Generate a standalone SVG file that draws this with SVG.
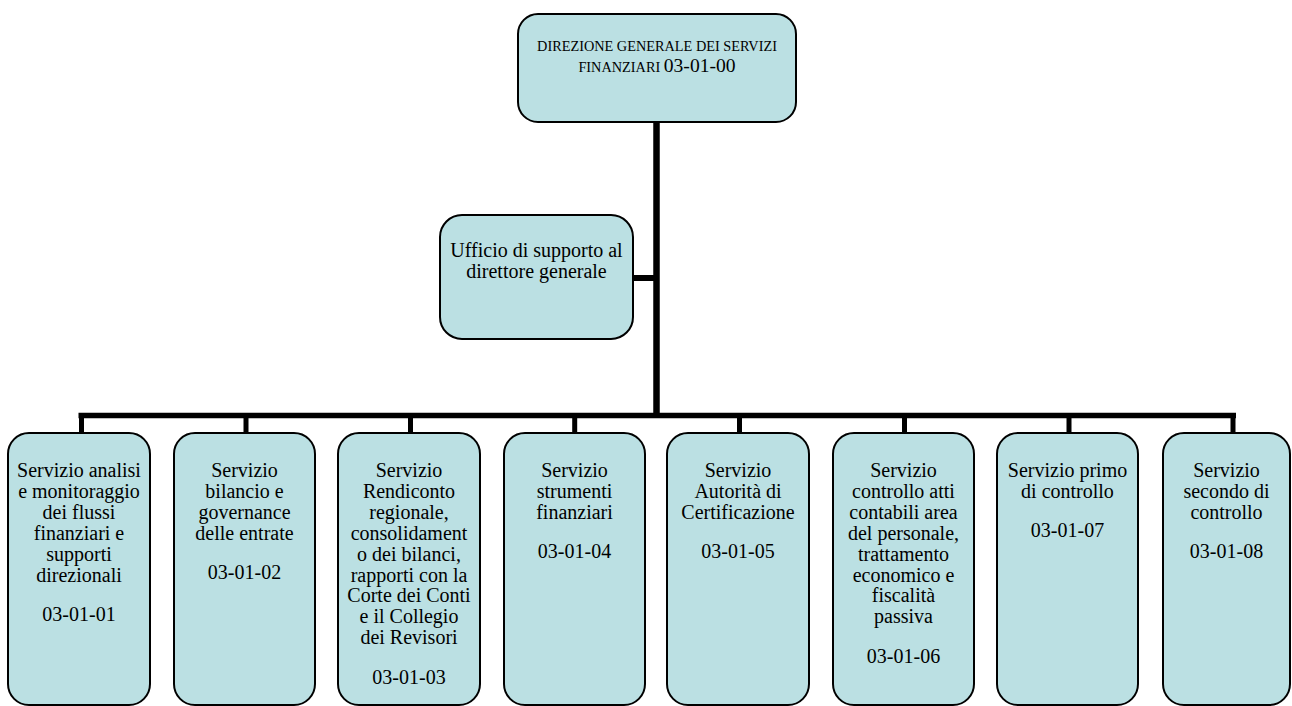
<svg xmlns="http://www.w3.org/2000/svg" width="1292" height="706" viewBox="0 0 1292 706" font-family="'Liberation Serif', 'Times New Roman', Times, serif">
<style>
.box{fill:#BBE0E3;stroke:#000;stroke-width:2}
.t{font-family:'Liberation Serif', 'Times New Roman', Times, serif;font-size:20px;fill:#000;text-anchor:middle}
.cap{font-family:'Liberation Serif', 'Times New Roman', Times, serif;font-size:14.3px;fill:#000}
.con{stroke:#000;fill:none}
</style>
<rect width="1292" height="706" fill="#fff"/>
<g id="connectors">
<line class="con" x1="656.5" y1="122" x2="656.5" y2="418" stroke-width="6.5"/>
<line class="con" x1="633" y1="278" x2="656" y2="278" stroke-width="6"/>
<line class="con" x1="78.5" y1="415.5" x2="1236" y2="415.5" stroke-width="5.5"/>
<path class="con" stroke-width="5" d="M81.5 413V434M246 413V434M410.5 413V434M574.7 413V434M739.5 413V434M904.5 413V434M1069 413V434M1233 413V434"/>
</g>
<g id="n0">
<rect class="box" x="518" y="14" width="278" height="108" rx="20"/>
<text class="cap" x="657" y="50.7" text-anchor="middle">DIREZIONE GENERALE DEI SERVIZI</text>
<text class="cap" x="657" y="71.7" text-anchor="middle">FINANZIARI <tspan font-size="19.6px">03-01-00</tspan></text>
</g>
<g id="staff">
<rect class="box" x="440" y="215" width="193" height="124" rx="22"/>
<text class="t" x="536.5" y="256.7">Ufficio di supporto al</text>
<text class="t" x="536.5" y="278.2">direttore generale</text>
</g>
<g id="n1">
<rect class="box" x="8" y="433" width="142" height="272" rx="21"/>
<text class="t" x="79"><tspan x="79" y="477">Servizio analisi</tspan><tspan x="79" y="497.9">e monitoraggio</tspan><tspan x="79" y="518.8">dei flussi</tspan><tspan x="79" y="539.7">finanziari e</tspan><tspan x="79" y="560.6">supporti</tspan><tspan x="79" y="581.5">direzionali</tspan><tspan x="79" y="621">03-01-01</tspan></text>
</g>
<g id="n2">
<rect class="box" x="174" y="433" width="141" height="272" rx="21"/>
<text class="t"><tspan x="244.5" y="477">Servizio</tspan><tspan x="244.5" y="497.9">bilancio e</tspan><tspan x="244.5" y="518.8">governance</tspan><tspan x="244.5" y="539.7">delle entrate</tspan><tspan x="244.5" y="579.2">03-01-02</tspan></text>
</g>
<g id="n3">
<rect class="box" x="338" y="433" width="142" height="272" rx="21"/>
<text class="t"><tspan x="409" y="477">Servizio</tspan><tspan x="409" y="497.9">Rendiconto</tspan><tspan x="409" y="518.8">regionale,</tspan><tspan x="409" y="539.7">consolidament</tspan><tspan x="409" y="560.6">o dei bilanci,</tspan><tspan x="409" y="581.5">rapporti con la</tspan><tspan x="409" y="602.4">Corte dei Conti</tspan><tspan x="409" y="623.3">e il Collegio</tspan><tspan x="409" y="644.2">dei Revisori</tspan><tspan x="409" y="683.7">03-01-03</tspan></text>
</g>
<g id="n4">
<rect class="box" x="504" y="433" width="141" height="272" rx="21"/>
<text class="t"><tspan x="574.5" y="477">Servizio</tspan><tspan x="574.5" y="497.9">strumenti</tspan><tspan x="574.5" y="518.8">finanziari</tspan><tspan x="574.5" y="558.3">03-01-04</tspan></text>
</g>
<g id="n5">
<rect class="box" x="667" y="433" width="142" height="272" rx="21"/>
<text class="t"><tspan x="738" y="477">Servizio</tspan><tspan x="738" y="497.9">Autorità di</tspan><tspan x="738" y="518.8">Certificazione</tspan><tspan x="738" y="558.3">03-01-05</tspan></text>
</g>
<g id="n6">
<rect class="box" x="833" y="433" width="141" height="272" rx="21"/>
<text class="t"><tspan x="903.5" y="477">Servizio</tspan><tspan x="903.5" y="497.9">controllo atti</tspan><tspan x="903.5" y="518.8">contabili area</tspan><tspan x="903.5" y="539.7">del personale,</tspan><tspan x="903.5" y="560.6">trattamento</tspan><tspan x="903.5" y="581.5">economico e</tspan><tspan x="903.5" y="602.4">fiscalità</tspan><tspan x="903.5" y="623.3">passiva</tspan><tspan x="903.5" y="662.8">03-01-06</tspan></text>
</g>
<g id="n7">
<rect class="box" x="997" y="433" width="141" height="272" rx="21"/>
<text class="t"><tspan x="1067.5" y="477">Servizio primo</tspan><tspan x="1067.5" y="497.9">di controllo</tspan><tspan x="1067.5" y="537.4">03-01-07</tspan></text>
</g>
<g id="n8">
<rect class="box" x="1163" y="433" width="127" height="272" rx="21"/>
<text class="t"><tspan x="1226.5" y="477">Servizio</tspan><tspan x="1226.5" y="497.9">secondo di</tspan><tspan x="1226.5" y="518.8">controllo</tspan><tspan x="1226.5" y="558.3">03-01-08</tspan></text>
</g>
</svg>
